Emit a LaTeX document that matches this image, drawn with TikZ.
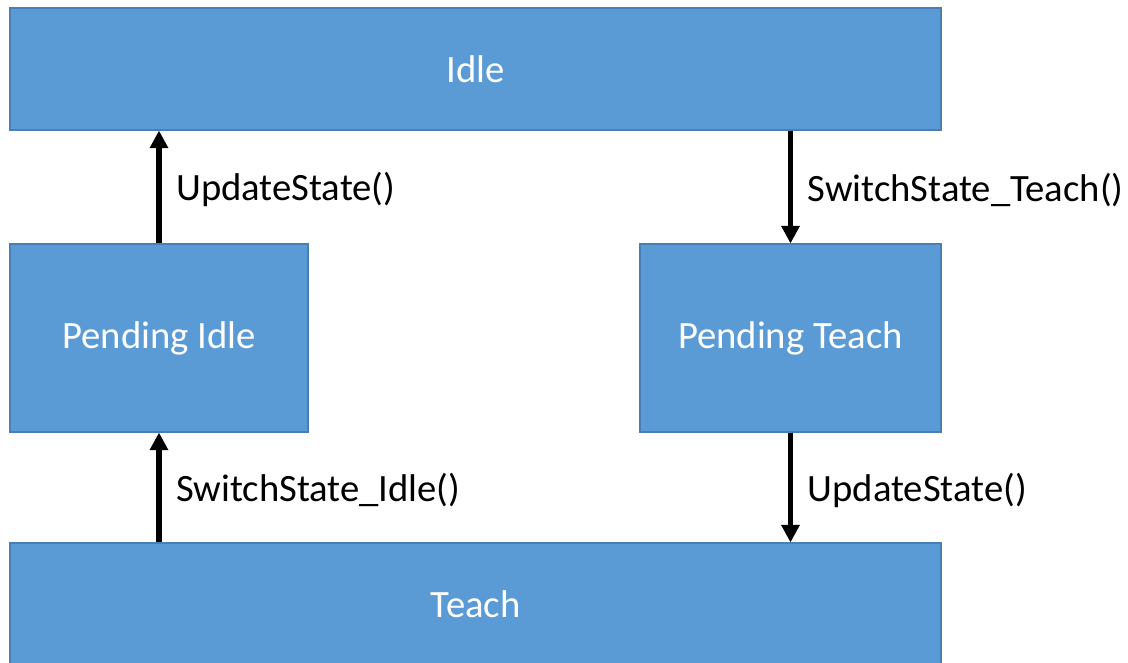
\documentclass[tikz,border=0pt]{standalone}
\usepackage{fontspec}
\setmainfont{Carlito}
\usepackage{xcolor}
\usetikzlibrary{arrows.meta, positioning}

\definecolor{stateblue}{HTML}{5B9BD5}
\definecolor{stateedge}{HTML}{4A7FB5}

\begin{document}
\begin{tikzpicture}[
    box/.style={rectangle, draw=stateedge, fill=stateblue, line width=0.6pt, text=white, font=\fontsize{22}{26}\selectfont, align=center},
    trans/.style={-{Triangle[length=10pt, width=10pt]}, line width=3pt},
    lbl/.style={right, xshift=5pt, yshift=-1.5pt, font=\fontsize{22}{26}\selectfont}
]
    \useasboundingbox (0,0) rectangle (22.56,-13.24);

    \node[box, minimum width=18.62cm, minimum height=2.44cm] (idle) at (9.51,-1.38) {Idle};
    \node[box, minimum width=5.96cm, minimum height=3.76cm] (pidle) at (3.18,-6.76) {Pending Idle};
    \node[box, minimum width=6.02cm, minimum height=3.76cm] (pteach) at (15.81,-6.76) {Pending Teach};
    \node[box, minimum width=18.62cm, minimum height=2.44cm] (teach) at (9.51,-12.08) {Teach};

    \draw[trans] (pidle.north) -- node[lbl] {UpdateState()} (pidle.north |- idle.south);
    \draw[trans] (pteach.north |- idle.south) -- node[lbl] {SwitchState\_Teach()} (pteach.north);
    \draw[trans] (pidle.south |- teach.north) -- node[lbl] {SwitchState\_Idle()} (pidle.south);
    \draw[trans] (pteach.south) -- node[lbl] {UpdateState()} (pteach.south |- teach.north);
\end{tikzpicture}
\end{document}
